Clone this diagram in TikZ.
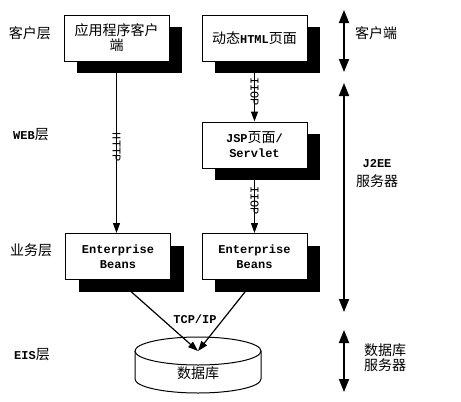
\documentclass[tikz,border=0pt]{standalone}
\usepackage{fontspec}
\setmainfont{Noto Sans CJK SC}
\setmonofont{Liberation Mono}
\usetikzlibrary{arrows.meta,shadows}
\newcommand{\lat}[1]{{\fontsize{12pt}{15pt}\ttfamily\bfseries #1}}

\begin{document}
\begin{tikzpicture}[x=1pt,y=-1pt]
\tikzstyle{every node}+=[inner sep=0pt]
\tikzstyle{tier}=[draw=black, fill=white, line width=1pt, minimum width=105pt, minimum height=46pt, align=center, font=\fontsize{14pt}{15pt}\selectfont, drop shadow={shadow xshift=13pt, shadow yshift=-12pt, fill=black, opacity=1}]
\tikzstyle{layer}=[align=center, font=\fontsize{14pt}{16pt}\selectfont]
\tikzstyle{proto}=[rotate=-90, font=\fontsize{12pt}{12pt}\ttfamily]
\tikzstyle{link}=[line width=1.2pt, -{Triangle[length=10pt,width=7pt]}]
\tikzstyle{span}=[line width=1.8pt, {Triangle[length=13pt,width=10pt]}-{Triangle[length=13pt,width=10pt]}]
\useasboundingbox (0,0) rectangle (461,402);
% layers
\node[layer] (lclient) at (30,33) {客户层};
\node[layer] (lweb) at (31,135) {\lat{WEB}层};
\node[layer] (lbiz) at (31,250) {业务层};
\node[layer] (leis) at (32,355) {\lat{EIS}层};
% tiers
\node[tier] (app) at (116.5,38) {应用程序客户\\端};
\node[tier] (html) at (254.5,38) {动态\lat{HTML}页面};
\node[tier] (jsp) at (254.5,145) {\lat{JSP}页面\lat{/}\\\lat{Servlet}};
\node[tier] (ejba) at (118,256.5) {\lat{Enterprise}\\\lat{Beans}};
\node[tier] (ejbb) at (254.5,256.5) {\lat{Enterprise}\\\lat{Beans}};
\draw[link] (app.south) -- (app.south |- ejba.north) node[proto, midway] {HTTP};
\draw[link] (html.south) -- (jsp.north) node[proto, midway] {IIOP};
\draw[link] (jsp.south) -- (ejbb.north) node[proto, midway] {IIOP};
% database
\coordinate (dbtop) at (198,351);
\draw[line width=1pt, fill=white] (135,351) -- (135,379) arc[start angle=180, end angle=0, x radius=63, y radius=14] -- (261,351);
\draw[line width=1pt, fill=white] (dbtop) ellipse[x radius=63, y radius=14];
\node[layer] (db) at (198,373) {数据库};
\draw[link] (ejba.south) -- (dbtop);
\draw[link] (ejbb.south) -- (dbtop);
\node (tcp) at (195,319) {\lat{TCP/IP}};
% right side
\coordinate (ctop) at (344,10);
\coordinate (cbot) at (344,72);
\coordinate (stop) at (344,83);
\coordinate (sbot) at (344,312);
\coordinate (dtop) at (344,330);
\coordinate (dbot) at (344,392);
\draw[span] (ctop) -- (cbot);
\draw[span] (stop) -- (sbot);
\draw[span] (dtop) -- (dbot);
\node[layer] (lcs) at (376,33) {客户端};
\node[layer, font=\fontsize{14pt}{19pt}\selectfont] (lsrv) at (377,173.5) {\lat{J2EE}\\服务器};
\node[layer, font=\fontsize{14pt}{15pt}\selectfont] (ldb) at (385,357.5) {数据库\\服务器};
\end{tikzpicture}
\end{document}
